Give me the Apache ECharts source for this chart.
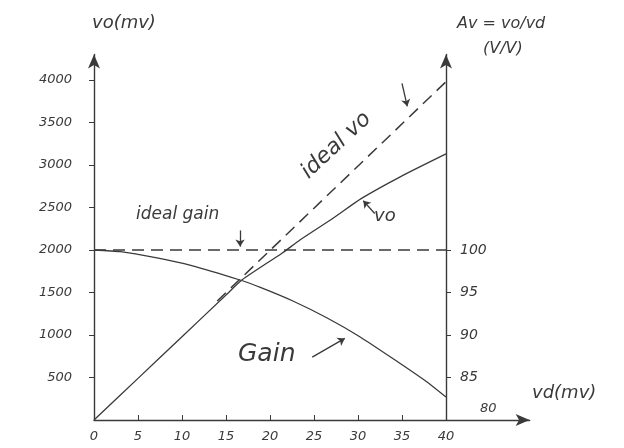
<!DOCTYPE html>
<html>
<head>
<meta charset="utf-8">
<script src="https://cdn.jsdelivr.net/npm/echarts@6/dist/echarts.min.js"></script>
<style>
html,body{margin:0;padding:0;background:#fff;}
#c{width:624px;height:448px;}
</style>
</head>
<body>
<div id="c"></div>
<script>
// ---- data ----
const vdTicks = [0, 5, 10, 15, 20, 25, 30, 35, 40];
const voTicks = [500, 1000, 1500, 2000, 2500, 3000, 3500, 4000];
const gainTicks = [80, 85, 90, 95, 100];

const vdVo = [0, 5, 10, 15, 16.8, 21.4, 23.4, 27.2, 30.4, 34.8, 40];
const voVals = [0, 490, 980, 1470, 1647, 1965, 2117, 2376, 2607, 2861, 3130];

const vdGain = [0, 3, 7, 11, 16.5, 18.9, 22.6, 26.5, 30.2, 34, 37.8, 40];
const gainVals = [100, 99.8, 99.1, 98.2, 96.5, 95.6, 94.0, 92.0, 89.8, 87.2, 84.5, 82.7];

const vdIdealVo = [14, 40];
const idealVoVals = [1400, 3980];

const vdIdealGain = [0, 40];
const idealGainVals = [100, 100];

// ---- chart ----
const ink = '#3a3a3a';
const font = 'DejaVu Sans';
const zip = (a, b) => a.map((x, i) => [x, b[i]]);

const chart = echarts.init(document.getElementById('c'), null, {renderer: 'canvas'});
chart.setOption({
  backgroundColor: '#ffffff',
  animation: false,
  grid: {left: 94, right: 94.4, top: 54.5, bottom: 28},
  xAxis: {
    type: 'value', min: 0, max: 49.5, interval: 5,
    axisLine: {show: true, symbol: ['none', 'arrow'], symbolSize: [9, 14], lineStyle: {color: ink, width: 1.4}},
    axisTick: {show: true, customValues: vdTicks, length: 5, inside: true, lineStyle: {color: ink}},
    axisLabel: {customValues: vdTicks, margin: 10, color: ink, fontFamily: font, fontStyle: 'italic', fontSize: 13,
      formatter: v => String(v)},
    splitLine: {show: false}
  },
  yAxis: [
    {
      type: 'value', min: 0, max: 4300, interval: 500, position: 'left',
      axisLine: {show: true, symbol: ['none', 'arrow'], symbolSize: [9, 14], lineStyle: {color: ink, width: 1.4}},
      axisTick: {show: true, customValues: voTicks, length: 5, inside: false, lineStyle: {color: ink}},
      axisLabel: {customValues: voTicks, margin: 22, color: ink, fontFamily: font, fontStyle: 'italic', fontSize: 13,
        formatter: v => String(v)},
      splitLine: {show: false}
    },
    {
      type: 'value', min: 80, max: 123, interval: 5, position: 'right', offset: -83.6,
      axisLine: {show: true, onZero: false, symbol: ['none', 'arrow'], symbolSize: [9, 14], lineStyle: {color: ink, width: 1.4}},
      axisTick: {show: true, customValues: gainTicks, length: 5, inside: false, lineStyle: {color: ink}},
      axisLabel: {
        customValues: gainTicks, margin: 14, color: ink, fontFamily: font, fontStyle: 'italic', fontSize: 14,
        formatter: v => v === 80 ? '{b|80}' : String(v),
        rich: {b: {padding: [0, 0, 22, 20], color: ink, fontFamily: font, fontStyle: 'italic', fontSize: 13}}
      },
      splitLine: {show: false}
    }
  ],
  series: [
    {
      name: 'vo', type: 'line', yAxisIndex: 0, data: zip(vdVo, voVals), smooth: 0.2,
      showSymbol: false, lineStyle: {color: ink, width: 1.3},
      markLine: {
        silent: true, symbol: ['none', 'arrow'], symbolSize: 7, label: {show: false},
        lineStyle: {color: ink, width: 1.3, type: 'solid'},
        data: [
          [{coord: [31.9, 2430]}, {coord: [30.6, 2580]}],
          [{coord: [16.6, 2230]}, {coord: [16.6, 2040]}],
          [{coord: [24.8, 740]}, {coord: [28.5, 960]}],
          [{coord: [35.0, 3960]}, {coord: [35.6, 3690]}]
        ]
      }
    },
    {
      name: 'gain', type: 'line', yAxisIndex: 1, data: zip(vdGain, gainVals), smooth: 0.2,
      showSymbol: false, lineStyle: {color: ink, width: 1.3}
    },
    {
      name: 'ideal vo', type: 'line', yAxisIndex: 0, data: zip(vdIdealVo, idealVoVals),
      showSymbol: false, lineStyle: {color: ink, width: 1.5, type: [12, 7]}
    },
    {
      name: 'ideal gain', type: 'line', yAxisIndex: 1, data: zip(vdIdealGain, idealGainVals),
      showSymbol: false, lineStyle: {color: ink, width: 1.5, type: [12, 7]}
    }
  ],
  graphic: [
    {type: 'text', left: 92, top: 14, style: {text: 'vo(mv)', fill: ink, font: 'italic 18px "DejaVu Sans"'}},
    {type: 'text', left: 457, top: 16, style: {text: 'Av = vo/vd', fill: ink, font: 'italic 16px "DejaVu Sans"'}},
    {type: 'text', left: 483, top: 41, style: {text: '(V/V)', fill: ink, font: 'italic 16px "DejaVu Sans"'}},
    {type: 'text', left: 532, top: 384, style: {text: 'vd(mv)', fill: ink, font: 'italic 18px "DejaVu Sans"'}},
    {type: 'text', left: 136, top: 206, style: {text: 'ideal gain', fill: ink, font: 'italic 17px "DejaVu Sans"'}},
    {type: 'text', left: 238, top: 342, style: {text: 'Gain', fill: ink, font: 'italic 25px "DejaVu Sans"'}},
    {type: 'text', left: 374, top: 207, style: {text: 'vo', fill: ink, font: 'italic 18px "DejaVu Sans"'}},
    {type: 'text', x: 312, y: 183, rotation: 43 * Math.PI / 180,
     style: {text: 'ideal vo', fill: ink, font: 'italic 22px "DejaVu Sans"', textVerticalAlign: 'bottom'}}
  ]
});
</script>
</body>
</html>
